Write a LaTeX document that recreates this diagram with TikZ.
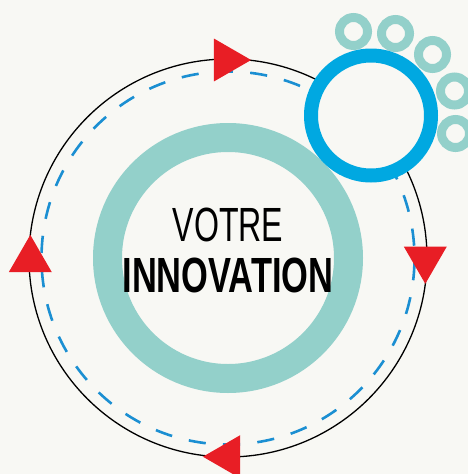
\documentclass[tikz,border=0pt]{standalone}
\usepackage{fontspec}
\setmainfont{Liberation Sans}
\usepackage{graphicx}
\usepackage{xcolor}
\usepackage{tikz}
\usetikzlibrary{shapes.geometric}

\definecolor{bgpaper}{HTML}{F8F8F4}
\definecolor{tealring}{HTML}{93D0CA}
\definecolor{bluering}{HTML}{00A8E1}
\definecolor{dashblue}{HTML}{1B8FD2}
\definecolor{redarrow}{HTML}{E81E25}

\newlength\pxu
\setlength\pxu{0.05cm}

\tikzset{
    tri/.style = {regular polygon, regular polygon sides = 3, fill = redarrow,
        minimum size = 2.48cm, inner sep = 0pt},
    bubble/.style = {draw = tealring, fill = bgpaper, line width = 0.45cm},
}

\begin{document}
\begin{tikzpicture}[x = 0.05cm, y = -0.05cm]
        \fill[bgpaper] (0, 0) rectangle (468, 474);
        \useasboundingbox (0, 0) rectangle (468, 474);

        % the cycle
        \draw[line width = 0.065cm] (228, 258) circle(199);
        \draw[dashblue, line width = 0.13cm,
            dash pattern = on 0.8617cm off 0.8617cm, dash phase = 1.47cm]
            (228, 258) circle(186.5);
        \draw[tealring, line width = 1.45cm] (228, 258) circle(120.5);

        % bubbles
        \filldraw[bubble] (353.5, 31.5) circle(14);
        \filldraw[bubble] (395.5, 33.5) circle(14);
        \filldraw[bubble] (432.5, 54.5) circle(14);
        \filldraw[bubble] (454.5, 91) circle(14);
        \filldraw[bubble] (455.5, 133.5) circle(14);
        \filldraw[draw = bluering, fill = bgpaper, line width = 0.7cm]
            (371, 115.5) circle(60);

        \node[inner sep = 0pt] (votre) at (228, 225)
            {\resizebox{110.6\pxu}{33.5\pxu}{VOTRE}};
        \node[inner sep = 0pt] (innovation) at (228, 275.3)
            {\resizebox{211\pxu}{34.5\pxu}{\bfseries INNOVATION}};

        \node[tri, rotate = -90] (triTop) at (226.3, 60) {};
        \node[tri, rotate = 180] (triRight) at (425.3, 259) {};
        \node[tri, rotate = 90] (triBottom) at (227.7, 456.7) {};
        \node[tri] (triLeft) at (30.3, 259.7) {};
\end{tikzpicture}
\end{document}
